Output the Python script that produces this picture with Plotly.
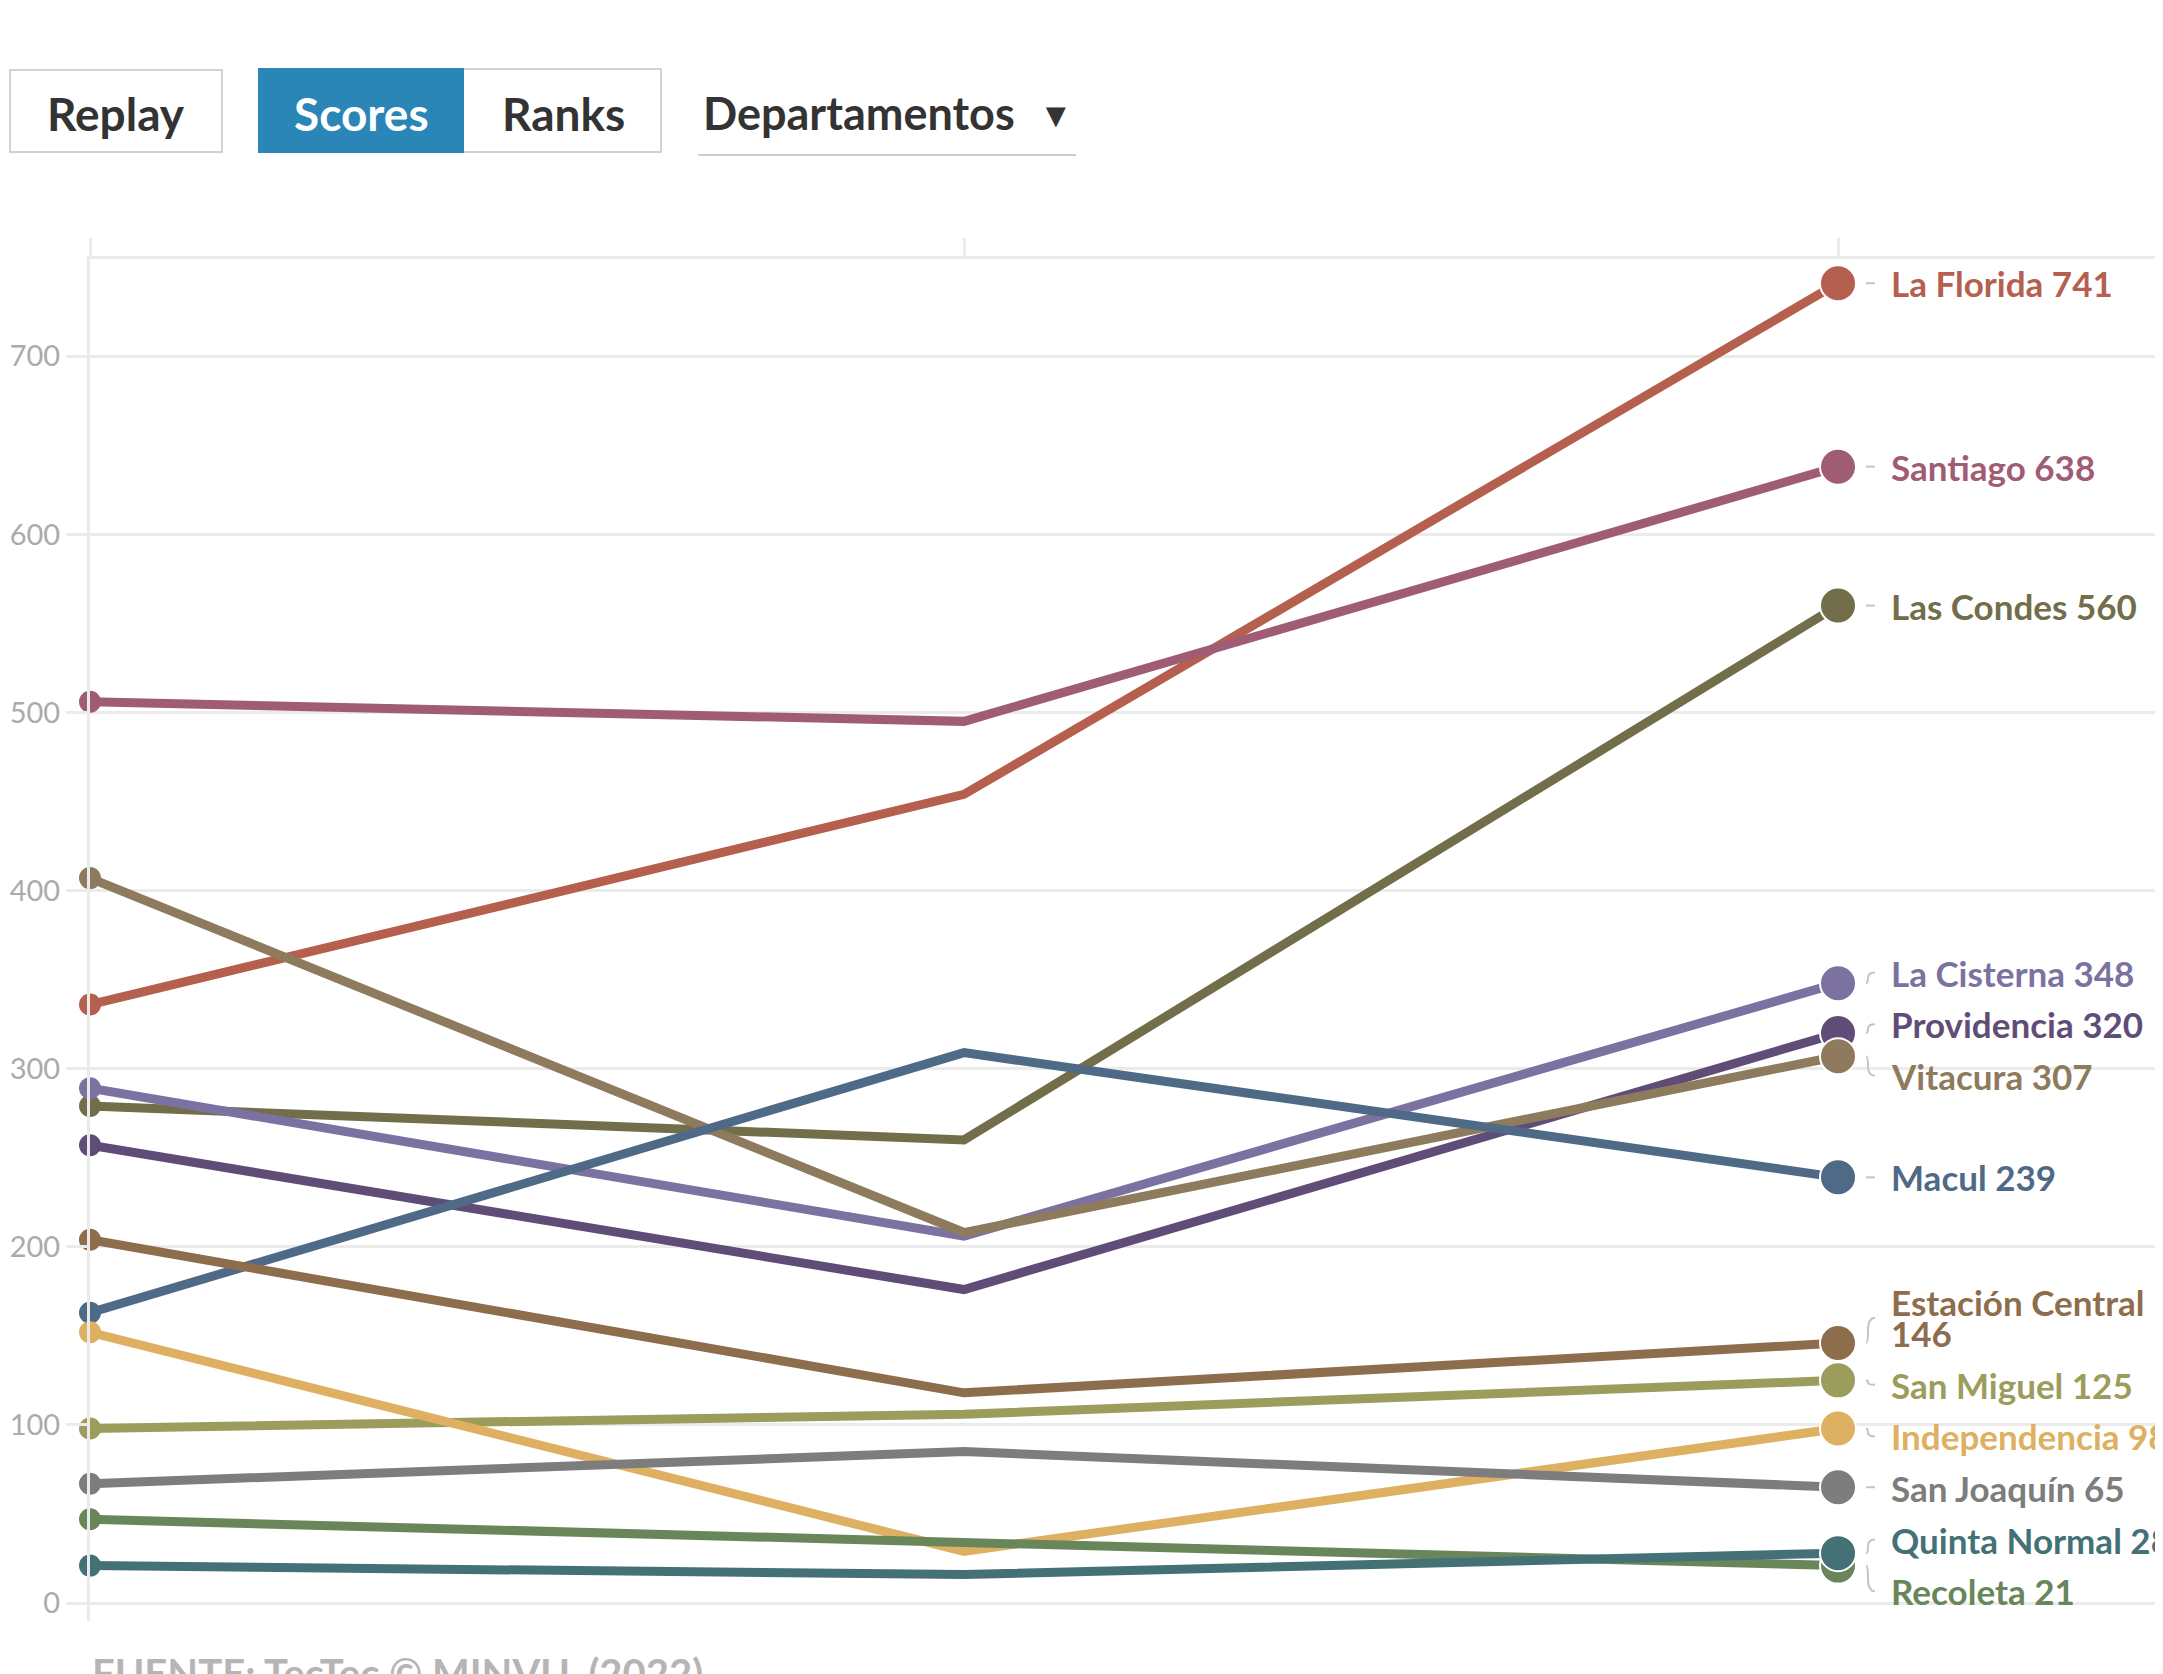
import plotly.graph_objects as go

# ---------------- data ----------------
periods = ["t1", "t2", "t3"]
names = ["La Florida", "Santiago", "Las Condes", "La Cisterna", "Providencia",
         "Vitacura", "Macul", "Estación Central", "San Miguel", "Independencia",
         "San Joaquín", "Recoleta", "Quinta Normal"]
scores_t1 = [336, 506, 279, 289, 257, 407, 163, 204, 98, 152, 67, 47, 21]
scores_t2 = [454, 495, 260, 206, 176, 208, 309, 118, 106, 29, 85, 34, 16]
scores_t3 = [741, 638, 560, 348, 320, 307, 239, 146, 125, 98, 65, 21, 28]
colors = ["#b5604f", "#a05c74", "#716e49", "#7c72a2", "#5f4d78",
          "#8e7b5d", "#4e6a87", "#8d6d4c", "#9c9c5c", "#ddb062",
          "#7d7d7d", "#68865a", "#437176"]
y_ticks = [0, 100, 200, 300, 400, 500, 600, 700]
wrapped = {"Estación Central"}
source = "FUENTE: TecTec © MINVU. (2022)"

# ---------------- layout constants (screen px) ----------------
W, H = 2163, 1674
OFF = 8                      # page body margin
AX_X, X2_X = 90, 1838        # screen x of first / last period
PLOT_TOP, PLOT_BOT = 259, 1621
L = AX_X - OFF
T = PLOT_TOP - OFF
B = H - (PLOT_BOT - OFF)
R = 0
plot_w = W - L - R
plot_h = H - T - B
y_min, y_max = -10.1, 754.6
px_per_unit_x = (X2_X - AX_X) / 2
x_max = plot_w / px_per_unit_x
px_per_unit_y = plot_h / (y_max - y_min)
GRID = "#ebebeb"
LINE_H = 51.6      # one-line label height (px)
EXTRA_LINE = 31.0  # extra px per added line

def px2x(px):
    return (px - OFF - L) / plot_w

def py2y(py):
    return (H - B - (py - OFF)) / plot_h

fig = go.Figure()

# ---------------- lines ----------------
for i, nm in enumerate(names):
    ys = [scores_t1[i], scores_t2[i], scores_t3[i]]
    fig.add_trace(go.Scatter(
        x=[0, 1, 2], y=ys, mode="lines+markers", name=nm,
        line=dict(color=colors[i], width=9),
        marker=dict(size=[22, 0, 36], color=colors[i], opacity=1,
                    line=dict(color="white", width=[0, 0, 2])),
        cliponaxis=False, hoverinfo="skip", showlegend=False,
    ))

# ---------------- label placement (cluster relaxation) ----------------
n = len(names)
heights = [LINE_H + (EXTRA_LINE if names[i] in wrapped else 0) for i in range(n)]
order = sorted(range(n), key=lambda i: -scores_t3[i])

def place(cl):
    offs, o = [], 0.0
    for k, i in enumerate(cl):
        if k > 0:
            o -= (heights[cl[k - 1]] + heights[i]) / 2 / px_per_unit_y
        offs.append(o)
    top = sum(scores_t3[i] for i in cl) / len(cl) - sum(offs) / len(offs)
    return [top + off for off in offs]

clusters = [[i] for i in order]
changed = True
while changed:
    changed = False
    pos = [place(c) for c in clusters]
    for k in range(len(clusters) - 1):
        a, b = clusters[k], clusters[k + 1]
        bottom_a = pos[k][-1] - heights[a[-1]] / 2 / px_per_unit_y
        top_b = pos[k + 1][0] + heights[b[0]] / 2 / px_per_unit_y
        if bottom_a < top_b:
            clusters[k] = a + b
            del clusters[k + 1]
            changed = True
            break

label_y = {}
for c in clusters:
    for i, p in zip(c, place(c)):
        label_y[i] = p

x_conn0 = 2 + 28 / px_per_unit_x
x_conn1 = 2 + 37 / px_per_unit_x
x_text = 2 + 51 / px_per_unit_x

for i in range(n):
    yl = label_y[i]
    yv = scores_t3[i]
    if abs(yl - yv) < 1.5:
        path = f"M {x_conn0} {yv} L {x_conn1} {yv}"
    else:
        xa = x_conn0 + 2 / px_per_unit_x
        path = (f"M {x_conn0} {yv} Q {xa} {yv} {xa} {(yv + yl) / 2} "
                f"Q {xa} {yl} {x_conn1} {yl}")
    fig.add_shape(type="path", path=path, xref="x", yref="y",
                  line=dict(color="#c4c4c4", width=2))
    nm = names[i]
    if nm in wrapped:
        lines = [nm, str(scores_t3[i])]
    else:
        lines = [f"{nm} {scores_t3[i]}"]
    k = len(lines)
    for j, txt in enumerate(lines):
        off = ((k - 1) / 2 - j) * EXTRA_LINE / px_per_unit_y
        fig.add_annotation(x=x_text, y=yl + off, xref="x", yref="y",
                           text=txt, showarrow=False, xanchor="left", yanchor="middle",
                           font=dict(family="Lato", size=35, color=colors[i], weight="bold"))

# ---------------- controls (static) ----------------
def rect(x0, x1, y0, y1, fill, line):
    fig.add_shape(type="rect", xref="paper", yref="paper",
                  x0=px2x(x0), x1=px2x(x1), y0=py2y(y1), y1=py2y(y0),
                  fillcolor=fill, line=dict(color=line, width=2), layer="above")

rect(10, 222, 70, 152, "white", "#d2d2d2")
rect(259, 661, 69, 152, "white", "#d2d2d2")
rect(259, 463, 69, 152, "#2a86b6", "#2a86b6")
fig.add_shape(type="line", xref="paper", yref="paper",
              x0=px2x(698), x1=px2x(1076), y0=py2y(155), y1=py2y(155),
              line=dict(color="#cccccc", width=2))

def btn_text(txt, xc, color, anchor="center", size=46):
    fig.add_annotation(x=px2x(xc), y=py2y(113), xref="paper", yref="paper",
                       text=txt, showarrow=False, xanchor=anchor, yanchor="middle",
                       font=dict(family="Lato", size=size, color=color, weight="bold"))

btn_text("Replay", 116, "#333333")
btn_text("Scores", 361, "#ffffff")
btn_text("Ranks", 563, "#333333")
btn_text("Departamentos", 701, "#333333", anchor="left", size=45)
btn_text("▼", 1056, "#333333", size=34)

# ---------------- footer ----------------
fig.add_annotation(x=px2x(90), y=py2y(1647), xref="paper", yref="paper",
                   text=source, showarrow=False, xanchor="left", yanchor="top",
                   font=dict(family="Lato", size=40, color="#b5b5b5", weight="bold"))

# ---------------- axes ----------------
fig.update_xaxes(range=[0, x_max], side="top", showline=True, linecolor=GRID, linewidth=3,
                 ticks="outside", ticklen=18, tickwidth=3, tickcolor=GRID,
                 tickvals=[0, 1, 2], showticklabels=False, showgrid=False, zeroline=False,
                 fixedrange=True)
fig.update_yaxes(range=[y_min, y_max], showline=True, linecolor=GRID, linewidth=3,
                 showgrid=True, gridcolor=GRID, gridwidth=3, zeroline=False,
                 ticks="outside", ticklen=21, tickwidth=3, tickcolor=GRID,
                 tickvals=y_ticks, ticktext=[str(v) for v in y_ticks],
                 tickfont=dict(family="Lato", size=29, color="#ababab"),
                 fixedrange=True)

fig.update_layout(width=W, height=H, margin=dict(l=L, r=R, t=T, b=B, pad=0),
                  plot_bgcolor="white", paper_bgcolor="white",
                  showlegend=False)

fig.write_html("out.html", config={"displayModeBar": False})
